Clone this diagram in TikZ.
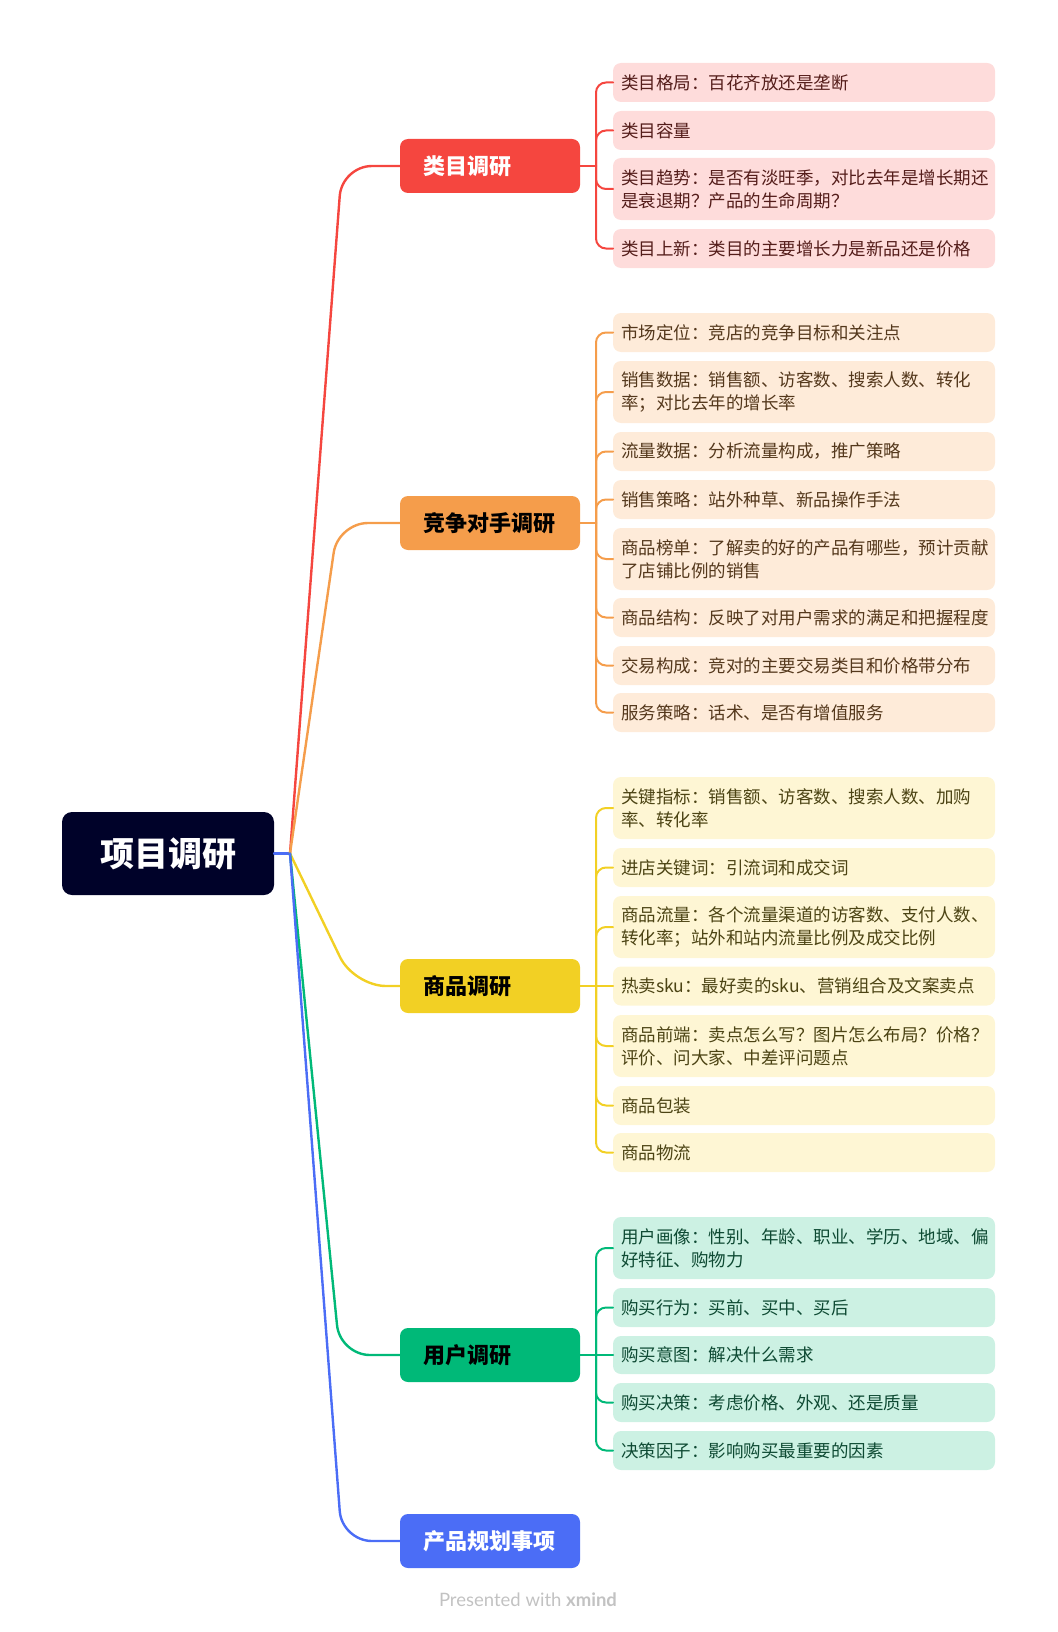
\documentclass[tikz,border=0pt]{standalone}
\usepackage{fontspec}
\setmainfont{Noto Sans CJK SC}
\newfontfamily\creditfont{Lato}
\usetikzlibrary{positioning}
\definecolor{mapRoot}{HTML}{000229}
\definecolor{mapRed}{HTML}{F5463F}
\definecolor{mapRedFill}{HTML}{FEDCDB}
\definecolor{mapRedText}{HTML}{541D1A}
\definecolor{mapOrange}{HTML}{F59D4B}
\definecolor{mapOrangeFill}{HTML}{FEEBD9}
\definecolor{mapOrangeText}{HTML}{54381C}
\definecolor{mapYellow}{HTML}{F2D024}
\definecolor{mapYellowFill}{HTML}{FEF6D4}
\definecolor{mapYellowText}{HTML}{4C4414}
\definecolor{mapGreen}{HTML}{00B978}
\definecolor{mapGreenFill}{HTML}{CCF1E3}
\definecolor{mapGreenText}{HTML}{0E4A33}
\definecolor{mapBlue}{HTML}{4B6DF6}
\definecolor{mapMuted}{HTML}{C2C2C2}
\tikzset{
  map/base/.style={outer sep=0pt, rounded corners=8pt, align=left},
  map/root/.style={map/base, fill=mapRoot, text=white, align=center,
    minimum width=212pt, minimum height=83pt, rounded corners=10pt,
    font=\fontsize{34}{40}\selectfont\bfseries},
  map/topic/.style={map/base, anchor=north west, minimum width=180pt,
    minimum height=54pt, text width=134pt, inner xsep=23pt, inner ysep=0pt,
    font=\fontsize{22}{26}\selectfont\bfseries},
  map/leaf/.style={map/base, anchor=north west, text width=366pt,
    inner xsep=8pt, inner ysep=0pt, font=\fontsize{17.5}{23}\selectfont},
  map/single/.style={minimum height=39pt},
  map/double/.style={minimum height=62pt},
  map/edge/.style={line width=2pt, line cap=round},
  map/trunk/.style={line width=2.4pt, line cap=round},
  map/note/.style={font=\creditfont\fontsize{18.5}{22}\selectfont, text=mapMuted},
}

\begin{document}
\begin{tikzpicture}[x=1pt, y=-1pt,
    redtopic/.style={map/topic, fill=mapRed, text=white},
    redleaf/.style={map/leaf, fill=mapRedFill, text=mapRedText},
    rededge/.style={map/edge, draw=mapRed},
    orangetopic/.style={map/topic, fill=mapOrange, text=black},
    orangeleaf/.style={map/leaf, fill=mapOrangeFill, text=mapOrangeText},
    orangeedge/.style={map/edge, draw=mapOrange},
    yellowtopic/.style={map/topic, fill=mapYellow, text=black},
    yellowleaf/.style={map/leaf, fill=mapYellowFill, text=mapYellowText},
    yellowedge/.style={map/edge, draw=mapYellow},
    greentopic/.style={map/topic, fill=mapGreen, text=black},
    greenleaf/.style={map/leaf, fill=mapGreenFill, text=mapGreenText},
    greenedge/.style={map/edge, draw=mapGreen},
    bluetopic/.style={map/topic, fill=mapBlue, text=white},
    blueedge/.style={map/edge, draw=mapBlue},
]
\useasboundingbox (0,0) rectangle (1057,1632);

% ===== Root =====
\node[map/root] (root) at (168,853.5) {项目调研};
\coordinate (hub) at (290,853.5);
\draw[blueedge, map/trunk] (root.east) -- (hub);

% ===== Main topics =====
\node[redtopic]    (cat)  at (400,139)  {类目调研};
\node[orangetopic] (comp) at (400,496)  {竞争对手调研};
\node[yellowtopic] (prod) at (400,959)  {商品调研};
\node[greentopic]  (user) at (400,1328) {用户调研};
\node[bluetopic]   (plan) at (400,1514) {产品规划事项};

% Root to topics
\draw[rededge,    map/trunk, rounded corners=30pt] (hub) -- (342,166)  -- (cat.west);
\draw[orangeedge, map/trunk, rounded corners=30pt] (hub) -- (338,523)  -- (comp.west);
\draw[yellowedge, map/trunk, rounded corners=32pt] (hub) -- (354,986)  -- (prod.west);
\draw[greenedge,  map/trunk, rounded corners=30pt] (hub) -- (340,1355) -- (user.west);
\draw[blueedge,   map/trunk, rounded corners=30pt] (hub) -- (342,1541) -- (plan.west);

% ===== Category leaves =====
\node[redleaf, map/single] (cat1) at (613,63)  {类目格局：百花齐放还是垄断};
\node[redleaf, map/single] (cat2) at (613,111) {类目容量};
\node[redleaf, map/double] (cat3) at (613,158) {类目趋势：是否有淡旺季，对比去年是增长期还\\是衰退期？产品的生命周期？};
\node[redleaf, map/single] (cat4) at (613,229) {类目上新：类目的主要增长力是新品还是价格};

\draw[rededge] (cat.east) -- ++(16,0) coordinate (catHub);
\foreach \n in {cat1,cat2,cat3,cat4}
  \draw[rededge, rounded corners=10pt] (catHub) |- (\n.west);

% ===== Competitor leaves =====
\node[orangeleaf, map/single] (comp1) at (613,313) {市场定位：竞店的竞争目标和关注点};
\node[orangeleaf, map/double] (comp2) at (613,361) {销售数据：销售额、访客数、搜索人数、转化\\率；对比去年的增长率};
\node[orangeleaf, map/single] (comp3) at (613,432) {流量数据：分析流量构成，推广策略};
\node[orangeleaf, map/single] (comp4) at (613,480) {销售策略：站外种草、新品操作手法};
\node[orangeleaf, map/double] (comp5) at (613,528) {商品榜单：了解卖的好的产品有哪些，预计贡献\\了店铺比例的销售};
\node[orangeleaf, map/single] (comp6) at (613,598) {商品结构：反映了对用户需求的满足和把握程度};
\node[orangeleaf, map/single] (comp7) at (613,646) {交易构成：竞对的主要交易类目和价格带分布};
\node[orangeleaf, map/single] (comp8) at (613,693) {服务策略：话术、是否有增值服务};

\draw[orangeedge] (comp.east) -- ++(16,0) coordinate (compHub);
\foreach \n in {comp1,comp2,comp3,comp4,comp5,comp6,comp7,comp8}
  \draw[orangeedge, rounded corners=10pt] (compHub) |- (\n.west);

% ===== Product leaves =====
\node[yellowleaf, map/double] (prod1) at (613,777)  {关键指标：销售额、访客数、搜索人数、加购\\率、转化率};
\node[yellowleaf, map/single] (prod2) at (613,848)  {进店关键词：引流词和成交词};
\node[yellowleaf, map/double] (prod3) at (613,896)  {商品流量：各个流量渠道的访客数、支付人数、\\转化率；站外和站内流量比例及成交比例};
\node[yellowleaf, map/single] (prod4) at (613,966.5) {热卖sku：最好卖的sku、营销组合及文案卖点};
\node[yellowleaf, map/double] (prod5) at (613,1015) {商品前端：卖点怎么写？图片怎么布局？价格？\\评价、问大家、中差评问题点};
\node[yellowleaf, map/single] (prod6) at (613,1086) {商品包装};
\node[yellowleaf, map/single] (prod7) at (613,1133) {商品物流};

\draw[yellowedge] (prod.east) -- ++(16,0) coordinate (prodHub);
\foreach \n in {prod1,prod2,prod3,prod5,prod6,prod7}
  \draw[yellowedge, rounded corners=10pt] (prodHub) |- (\n.west);
\draw[yellowedge] (prodHub) -- (prod4.west);

% ===== User leaves =====
\node[greenleaf, map/double] (user1) at (613,1217) {用户画像：性别、年龄、职业、学历、地域、偏\\好特征、购物力};
\node[greenleaf, map/single] (user2) at (613,1288) {购买行为：买前、买中、买后};
\node[greenleaf, minimum height=38pt] (user3) at (613,1336) {购买意图：解决什么需求};
\node[greenleaf, map/single] (user4) at (613,1383) {购买决策：考虑价格、外观、还是质量};
\node[greenleaf, map/single] (user5) at (613,1431) {决策因子：影响购买最重要的因素};

\draw[greenedge] (user.east) -- ++(16,0) coordinate (userHub);
\foreach \n in {user1,user2,user4,user5}
  \draw[greenedge, rounded corners=10pt] (userHub) |- (\n.west);
\draw[greenedge] (userHub) -- (user3.west);

% ===== Credit line =====
\node[map/note] (credit) at (528,1600) {Presented with \textbf{xmind}};

\end{tikzpicture}
\end{document}
